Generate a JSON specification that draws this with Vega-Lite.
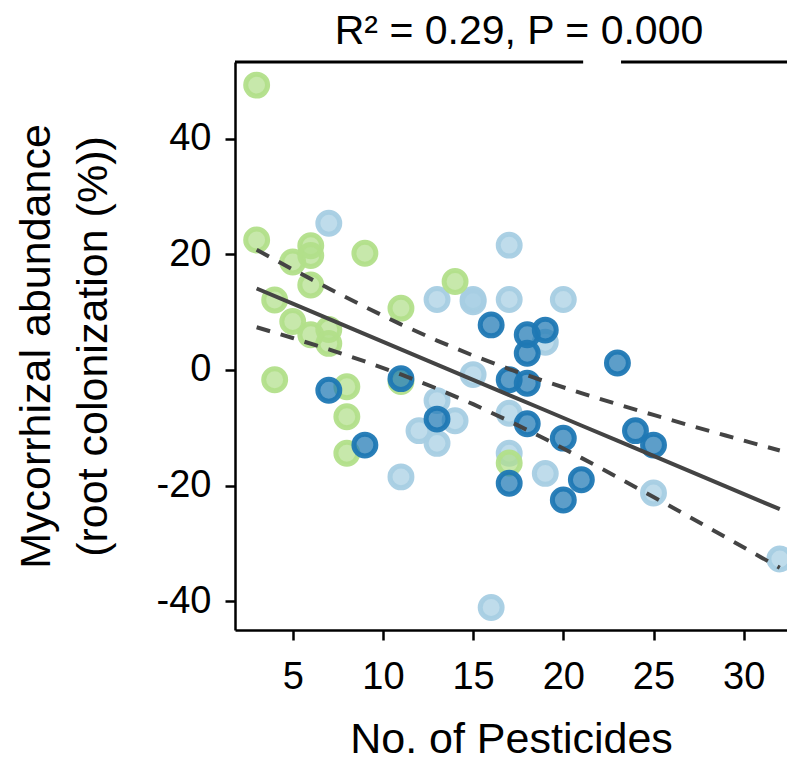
{
  "$schema": "https://vega.github.io/schema/vega-lite/v6.json",
  "autosize": {"type": "none"},
  "width": 552,
  "height": 568,
  "padding": {"left": 235, "top": 62, "right": 0, "bottom": 133},
  "background": "white",
  "config": {
    "view": {"stroke": null},
    "font": "Liberation Sans",
    "axis": {"grid": false, "domainColor": "black", "domainWidth": 2.5, "tickColor": "black", "tickWidth": 2.5, "tickSize": 10, "labelColor": "black", "titleColor": "black", "labelFont": "Liberation Sans", "titleFont": "Liberation Sans", "labelFontSize": 38, "titleFontSize": 43, "titleFontWeight": "normal", "labelExpr": "replace(datum.label, '−', '-')"}
  },
  "title": {"text": "R² = 0.29, P = 0.000", "font": "Liberation Sans", "fontSize": 41, "fontWeight": "normal", "color": "black", "anchor": "middle", "frame": "group", "dx": 8, "offset": -24, "baseline": "alphabetic"},
  "datasets": {
    "pts": [
      {"n": 7, "m": 25.4, "g": "L"}, {"n": 13, "m": 12.2, "g": "L"}, {"n": 15, "m": 12.2, "g": "L"}, {"n": 15, "m": 11.8, "g": "L"}, {"n": 17, "m": 12.2, "g": "L"}, {"n": 20, "m": 12.2, "g": "L"}, {"n": 17, "m": 21.6, "g": "L"}, {"n": 15, "m": -0.8, "g": "L"}, {"n": 13, "m": -5.3, "g": "L"}, {"n": 14, "m": -8.8, "g": "L"}, {"n": 12, "m": -10.5, "g": "L"}, {"n": 13, "m": -12.7, "g": "L"}, {"n": 11, "m": -18.5, "g": "L"}, {"n": 17, "m": -7.5, "g": "L"}, {"n": 17, "m": -14.4, "g": "L"}, {"n": 19, "m": -17.9, "g": "L"}, {"n": 19, "m": 4.8, "g": "L"}, {"n": 25, "m": -21.3, "g": "L"}, {"n": 32, "m": -32.7, "g": "L"}, {"n": 16, "m": -41.1, "g": "L"},
      {"n": 3, "m": 49.3, "g": "G"}, {"n": 3, "m": 22.5, "g": "G"}, {"n": 5, "m": 18.7, "g": "G"}, {"n": 6, "m": 21.5, "g": "G"}, {"n": 6, "m": 19.8, "g": "G"}, {"n": 6, "m": 14.7, "g": "G"}, {"n": 9, "m": 20.2, "g": "G"}, {"n": 4, "m": 12.1, "g": "G"}, {"n": 5, "m": 8.4, "g": "G"}, {"n": 6, "m": 6.1, "g": "G"}, {"n": 7, "m": 7.0, "g": "G"}, {"n": 7, "m": 4.6, "g": "G"}, {"n": 11, "m": 10.7, "g": "G"}, {"n": 4, "m": -1.7, "g": "G"}, {"n": 8, "m": -2.9, "g": "G"}, {"n": 8, "m": -8.1, "g": "G"}, {"n": 8, "m": -14.4, "g": "G"}, {"n": 11, "m": -2.0, "g": "G"}, {"n": 14, "m": 15.3, "g": "G"}, {"n": 17, "m": -16.1, "g": "G"},
      {"n": 7, "m": -3.5, "g": "D"}, {"n": 11, "m": -1.5, "g": "D"}, {"n": 9, "m": -13.0, "g": "D"}, {"n": 16, "m": 7.8, "g": "D"}, {"n": 18, "m": 6.1, "g": "D"}, {"n": 19, "m": 6.9, "g": "D"}, {"n": 18, "m": 2.9, "g": "D"}, {"n": 17, "m": -1.7, "g": "D"}, {"n": 18, "m": -2.3, "g": "D"}, {"n": 18, "m": -9.3, "g": "D"}, {"n": 20, "m": -11.8, "g": "D"}, {"n": 17, "m": -19.6, "g": "D"}, {"n": 21, "m": -19.0, "g": "D"}, {"n": 20, "m": -22.5, "g": "D"}, {"n": 23, "m": 1.2, "g": "D"}, {"n": 24, "m": -10.5, "g": "D"}, {"n": 25, "m": -13.0, "g": "D"}, {"n": 13, "m": -8.5, "g": "D"}
    ],
    "fit": [
      {"n": 3, "fit": 14.10, "hi": 20.80, "lo": 7.40},
      {"n": 5, "fit": 11.47, "hi": 17.41, "lo": 5.53},
      {"n": 7, "fit": 8.83, "hi": 14.10, "lo": 3.56},
      {"n": 9, "fit": 6.20, "hi": 10.92, "lo": 1.48},
      {"n": 11, "fit": 3.56, "hi": 7.89, "lo": -0.77},
      {"n": 13, "fit": 0.93, "hi": 5.08, "lo": -3.22},
      {"n": 15, "fit": -1.71, "hi": 2.50, "lo": -5.92},
      {"n": 17, "fit": -4.34, "hi": 0.16, "lo": -8.84},
      {"n": 19, "fit": -6.97, "hi": -1.99, "lo": -11.95},
      {"n": 21, "fit": -9.61, "hi": -4.01, "lo": -15.21},
      {"n": 23, "fit": -12.24, "hi": -5.93, "lo": -18.55},
      {"n": 25, "fit": -14.88, "hi": -7.78, "lo": -21.98},
      {"n": 27, "fit": -17.51, "hi": -9.58, "lo": -25.44},
      {"n": 29, "fit": -20.14, "hi": -11.34, "lo": -28.94},
      {"n": 31, "fit": -22.78, "hi": -13.08, "lo": -32.48},
      {"n": 32, "fit": -24.09, "hi": -13.94, "lo": -34.24}
    ],
    "top": [
      {"a": 1.8, "b": 21.1},
      {"a": 23.2, "b": 32.4}
    ]
  },
  "layer": [
    {
      "data": {"name": "top"},
      "mark": {"type": "rule", "color": "black", "strokeWidth": 3},
      "encoding": {
        "x": {"field": "a", "type": "quantitative", "scale": {"domain": [1.8, 32.4], "nice": false, "zero": false}, "axis": {"values": [5, 10, 15, 20, 25, 30], "title": "No. of Pesticides", "labelPadding": 18, "titlePadding": 22}},
        "x2": {"field": "b"},
        "y": {"datum": 53.3, "type": "quantitative", "scale": {"domain": [-45, 53.3], "nice": false, "zero": false}, "axis": {"values": [-40, -20, 0, 20, 40], "title": ["Mycorrhizal abundance", "(root colonization (%))"], "titleLineHeight": 57, "labelPadding": 14, "titlePadding": 41}}
      }
    },
    {
      "data": {"name": "pts"},
      "mark": {"type": "circle", "size": 480, "fillOpacity": 0.72, "strokeOpacity": 0.95, "strokeWidth": 5},
      "encoding": {
        "x": {"field": "n", "type": "quantitative"},
        "y": {"field": "m", "type": "quantitative"},
        "fill": {"field": "g", "type": "nominal", "scale": {"domain": ["L", "G", "D"], "range": ["#a6cee3", "#b2df8a", "#1f78b4"]}, "legend": null},
        "stroke": {"field": "g", "type": "nominal", "scale": {"domain": ["L", "G", "D"], "range": ["#a6cee3", "#b2df8a", "#1f78b4"]}, "legend": null}
      }
    },
    {
      "data": {"name": "fit"},
      "mark": {"type": "line", "color": "#444444", "strokeWidth": 4},
      "encoding": {"x": {"field": "n", "type": "quantitative"}, "y": {"field": "fit", "type": "quantitative"}}
    },
    {
      "data": {"name": "fit"},
      "mark": {"type": "line", "color": "#444444", "strokeWidth": 4, "strokeDash": [14, 11]},
      "encoding": {"x": {"field": "n", "type": "quantitative"}, "y": {"field": "hi", "type": "quantitative"}}
    },
    {
      "data": {"name": "fit"},
      "mark": {"type": "line", "color": "#444444", "strokeWidth": 4, "strokeDash": [14, 11]},
      "encoding": {"x": {"field": "n", "type": "quantitative"}, "y": {"field": "lo", "type": "quantitative"}}
    }
  ]
}
